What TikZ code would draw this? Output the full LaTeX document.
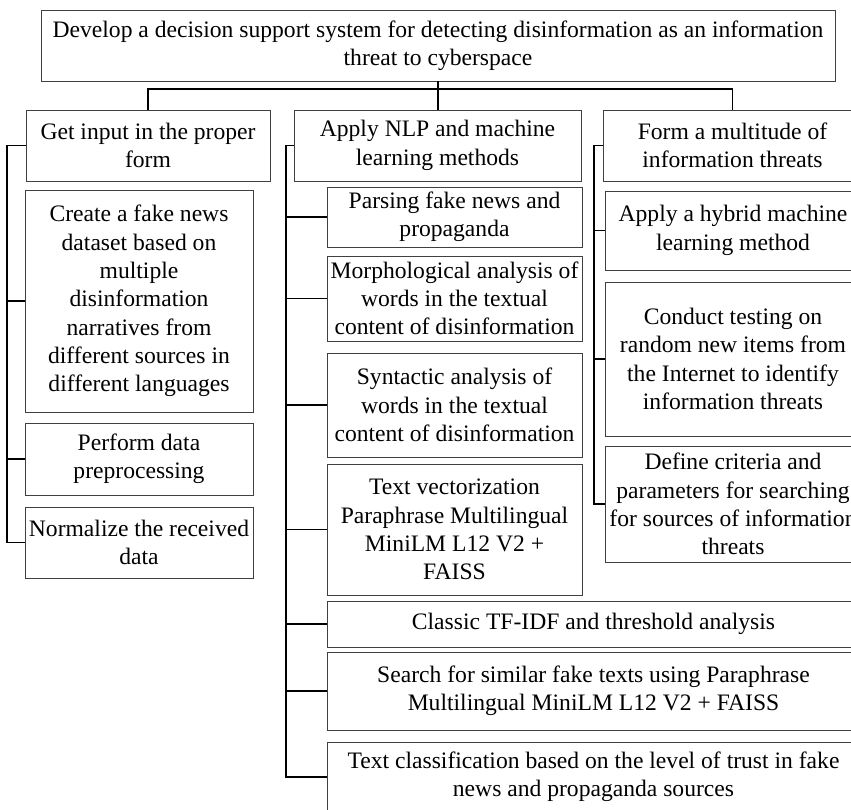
\documentclass[tikz,border=0pt]{standalone}
\usepackage{fontspec}
\setmainfont{Liberation Serif}
\begin{document}
\begin{tikzpicture}[x=1pt,y=1pt,
  box/.style={draw=black!75, line width=0.9pt, inner sep=0pt, outer sep=0pt,
    align=center, anchor=north west,
    font=\fontsize{23.6}{28.3}\selectfont},
  conn/.style={draw=black, line width=1.1pt}]
\useasboundingbox (0,0) rectangle (851,-810);
\clip (0,0) rectangle (851,-810);
% level 0
\node[box, minimum width=794pt, minimum height=71pt] (top) at (41,-10)
  {Develop a decision support system for detecting disinformation as an information\\threat to cyberspace};
% level 1
\node[box, minimum width=244pt, minimum height=71pt] (L) at (26,-110) {Get input in the proper\\form};
\node[box, minimum width=287pt, minimum height=71pt] (M) at (294,-110) {Apply NLP and machine\\learning methods};
\node[box, minimum width=259pt, minimum height=71pt] (R) at (603,-110) {Form a multitude of\\information threats};
% left children
\node[box, minimum width=228pt, minimum height=222pt] (L1) at (25,-190)
  {Create a fake news\\dataset based on\\multiple\\disinformation\\narratives from\\different sources in\\different languages};
\node[box, minimum width=228pt, minimum height=72pt] (L2) at (25,-423) {Perform data\\preprocessing};
\node[box, minimum width=228pt, minimum height=71pt] (L3) at (25,-507) {Normalize the received\\data};
% middle children
\node[box, minimum width=255pt, minimum height=60pt] (M1) at (327,-187) {Parsing fake news and\\propaganda};
\node[box, minimum width=255pt, minimum height=85pt] (M2) at (327,-256) {Morphological analysis of\\words in the textual\\content of disinformation};
\node[box, minimum width=255pt, minimum height=104pt] (M3) at (327,-353) {Syntactic analysis of\\words in the textual\\content of disinformation};
\node[box, minimum width=255pt, minimum height=131pt] (M4) at (327,-464) {Text vectorization\\Paraphrase Multilingual\\MiniLM L12 V2 +\\FAISS};
\node[box, minimum width=533pt, minimum height=46pt] (M5) at (327,-601) {Classic TF-IDF and threshold analysis};
\node[box, minimum width=533pt, minimum height=78pt] (M6) at (327,-652) {Search for similar fake texts using Paraphrase\\Multilingual MiniLM L12 V2 + FAISS};
\node[box, minimum width=533pt, minimum height=70pt] (M7) at (327,-742) {Text classification based on the level of trust in fake\\news and propaganda sources};
% right children
\node[box, minimum width=256pt, minimum height=79pt] (R1) at (605,-191) {Apply a hybrid machine\\learning method};
\node[box, minimum width=256pt, minimum height=154pt] (R2) at (605,-282) {Conduct testing on\\random new items from\\the Internet to identify\\information threats};
\node[box, minimum width=256pt, minimum height=116pt] (R3) at (605,-446) {Define criteria and\\parameters for searching\\for sources of information\\threats};
% connectors level 0 -> 1
\coordinate (hub) at (438,-89);
\draw[conn] (top.south -| hub) -- (M.north -| hub);
\draw[conn] (L.north) |- (hub) -| (R.north);
% left branch
\draw[conn] (L.west) -- ++(-19,0) coordinate (lt) |- (L3.west);
\foreach \n in {L1,L2} \draw[conn] (lt |- \n.west) -- (\n.west);
% middle branch
\draw[conn] (M.west) -- ++(-8,0) coordinate (mt) |- (M7.west);
\foreach \n in {M1,M2,M3,M4,M5,M6} \draw[conn] (mt |- \n.west) -- (\n.west);
% right branch
\draw[conn] (R.west) -- ++(-9,0) coordinate (rt) |- (R3.west);
\foreach \n in {R1,R2} \draw[conn] (rt |- \n.west) -- (\n.west);
\end{tikzpicture}
\end{document}
